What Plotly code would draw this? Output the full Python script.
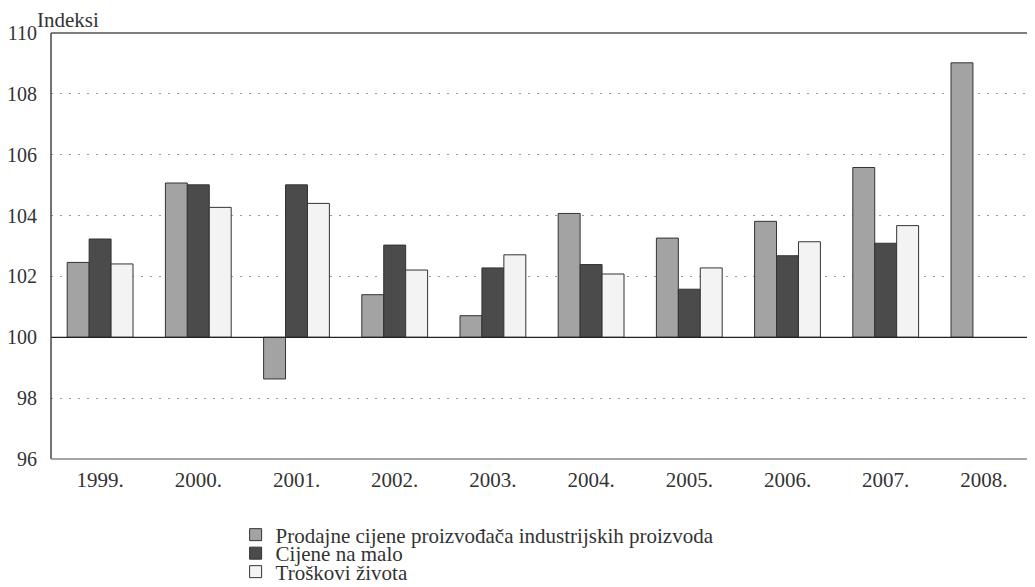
import plotly.graph_objects as go

years = ["1999.", "2000.", "2001.", "2002.", "2003.", "2004.", "2005.", "2006.", "2007.", "2008."]
prodajne = [102.46, 105.07, 98.63, 101.40, 100.71, 104.07, 103.26, 103.81, 105.58, 109.02]
malo = [103.23, 105.01, 105.01, 103.03, 102.28, 102.39, 101.58, 102.68, 103.09, None]
troskovi = [102.41, 104.27, 104.40, 102.21, 102.71, 102.08, 102.28, 103.14, 103.67, None]

names = ["Prodajne cijene proizvođača industrijskih proizvoda", "Cijene na malo", "Troškovi života"]
colors = ["#a3a3a3", "#4b4b4b", "#f3f3f3"]
series = [prodajne, malo, troskovi]
legend_ids = ["legend", "legend2", "legend3"]

BASE = 100
FONT = "Liberation Serif"
TXT = "#333333"

W, H = 1027, 579          # page adds an 8px body margin
ML, MT, MR, MB = 43, 25, 2, 128

fig = go.Figure()
for name, col, vals, lg in zip(names, colors, series, legend_ids):
    fig.add_trace(go.Bar(
        x=years,
        y=[None if v is None else v - BASE for v in vals],
        base=BASE,
        name=name,
        legend=lg,
        marker=dict(color=col, line=dict(color="#333333", width=1)),
        customdata=vals,
        hovertemplate="%{x}: %{customdata}<extra>" + name + "</extra>",
    ))

row_centers = [527, 545.5, 564]   # px from top of figure
legends = {}
for lg, yc in zip(legend_ids, row_centers):
    legends[lg] = dict(orientation="v", x=0.188, xanchor="left",
                       yref="container", y=1 - yc / H, yanchor="middle",
                       font=dict(family=FONT, size=21, color=TXT),
                       itemwidth=30, bgcolor="rgba(0,0,0,0)")

fig.update_layout(
    width=W, height=H,
    margin=dict(l=ML, r=MR, t=MT, b=MB, autoexpand=False),
    paper_bgcolor="white", plot_bgcolor="white",
    barmode="group", bargap=0.33, bargroupgap=0,
    font=dict(family=FONT, size=20, color=TXT),
    showlegend=True,
    **legends,
    xaxis=dict(showgrid=False, ticks="", showline=False, automargin=False,
               ticklabelstandoff=6, tickfont=dict(size=21, color=TXT)),
    yaxis=dict(range=[96, 110], dtick=2, tick0=96, showgrid=True,
               gridcolor="#9a9a9a", griddash="2px,7px", gridwidth=1,
               zeroline=False, showline=False, ticks="", automargin=False,
               ticklabelstandoff=13, tickfont=dict(size=20, color=TXT)),
    annotations=[dict(text="Indeksi", xref="paper", yref="paper", x=-0.0163, y=1.0,
                      xanchor="left", yanchor="bottom", showarrow=False,
                      font=dict(family=FONT, size=21, color=TXT), yshift=-1)],
    shapes=[
        dict(type="line", xref="paper", yref="y", x0=0, x1=1, y0=100, y1=100,
             line=dict(color="#222222", width=1.3), layer="above"),
        dict(type="line", xref="paper", yref="paper", x0=0, x1=0, y0=0, y1=1,
             line=dict(color="#444444", width=1.5)),
        dict(type="line", xref="paper", yref="paper", x0=0, x1=1, y0=1, y1=1,
             line=dict(color="#555555", width=1.5)),
        dict(type="line", xref="paper", yref="paper", x0=0, x1=1, y0=0, y1=0,
             line=dict(color="#888888", width=1.5)),
        dict(type="line", xref="paper", yref="paper", x0=1, x1=1, y0=0, y1=1,
             line=dict(color="#dddddd", width=1)),
    ],
)

fig.write_html("out.html")
